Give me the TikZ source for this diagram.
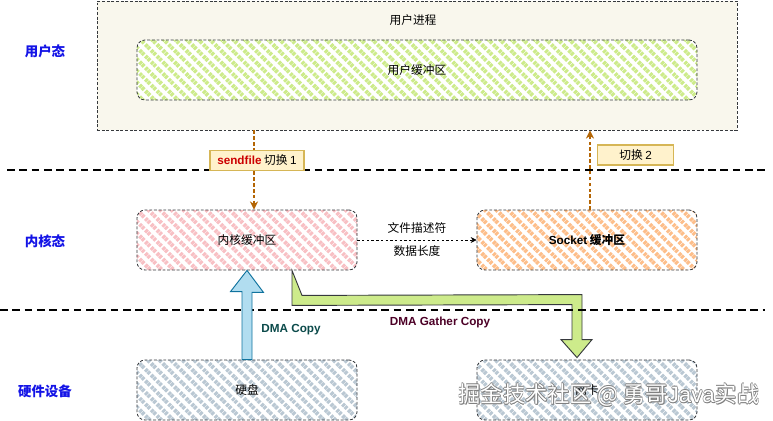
\documentclass[tikz,border=0pt]{standalone}
\usepackage{fontspec}
\setmainfont{Noto Sans CJK SC}
\newfontfamily\lat{Liberation Sans}
\usetikzlibrary{patterns.meta,arrows.meta,calc}
\definecolor{procfill}{HTML}{F9F7ED}
\definecolor{linegray}{HTML}{36393D}
\definecolor{ugreen}{HTML}{CDEB8B}
\definecolor{kpink}{HTML}{F8C0C4}
\definecolor{sorange}{HTML}{FDBE8A}
\definecolor{hwgray}{HTML}{BAC8D3}
\definecolor{labelfill}{HTML}{FFF2CC}
\definecolor{labelborder}{HTML}{D6B656}
\definecolor{switchbrown}{HTML}{B46504}
\definecolor{dmablue}{HTML}{B1DDF0}
\definecolor{dmaborder}{HTML}{10739E}
\definecolor{modeblue}{HTML}{1414E6}
\definecolor{copyteal}{HTML}{0B4A4A}
\definecolor{gathermaroon}{HTML}{4C0026}
\definecolor{sendred}{HTML}{CC0000}
\begin{document}
\begin{tikzpicture}[x=0.03cm,y=-0.03cm,font=\fontsize{10}{12}\selectfont]
  \tikzset{
    dashedge/.style={draw=linegray, line width=0.7pt, dash pattern=on 2.5pt off 1.5pt},
    buf/.style={dashedge, rounded corners=0.24cm, minimum width=6.6cm, minimum height=1.8cm, preaction={fill=white}},
    hatch/.style={pattern={Lines[angle=-45,distance=7pt,line width=3.4pt]}, pattern color=#1},
    modelabel/.style={text=modeblue, font=\fontsize{11.5}{14}\selectfont\bfseries},
    switchlabel/.style={draw=labelborder, fill=labelfill, minimum height=0.6cm, inner xsep=0.15cm},
    switcharrow/.style={draw=switchbrown, line width=1pt, dash pattern=on 3pt off 2pt, -{Stealth[length=7pt,width=7pt,fill=switchbrown]}},
    layerline/.style={line width=1.1pt, dash pattern=on 6.5pt off 4pt},
    dmacopy/.style={draw=dmaborder, fill=dmablue, line width=0.8pt},
    dmagather/.style={draw=linegray, fill=ugreen, line width=0.8pt},
  }
  \useasboundingbox (0,0) rectangle (773,421);
%% Layers
  \node[modelabel] (user) at (45,51) {用户态};
  \node[modelabel] (kernel) at (45,241) {内核态};
  \node[modelabel] (hw) at (45,391) {硬件设备};
%% User process
  \node[dashedge, fill=procfill, minimum width=19.2cm, minimum height=3.87cm] (proc) at (417,65.5) {};
  \node (procl) at (413,20) {用户进程};
  \node[buf, hatch=ugreen, minimum width=16.8cm] (ubuf) at (417,70) {用户缓冲区};
%% Kernel buffers
  \node[buf, hatch=kpink] (kbuf) at (247,240) {内核缓冲区};
  \node[buf, hatch=sorange, font=\fontsize{10}{12}\selectfont\bfseries] (sbuf) at (587,240) {{\lat Socket} 缓冲区};
%% Devices
  \node[buf, hatch=hwgray] (disk) at (247,390) {硬盘};
  \node[buf, hatch=hwgray] (nic) at (587,390) {网卡};
%Gather copy
  \draw[dmagather] ($(kbuf.south)+(45,0)$) -- ++(0,35) -- ($(nic.north)+(-15,-55)$) -- ++(0,35) -- ++(-11,0)
    -- ($(nic.north)+(-10,-2)$) -- ++(15,-18) -- ++(-10,0) -- ++(0,-45) -- ($(kbuf.south)+(55,25)$) -- cycle;
  \node[text=gathermaroon, font=\lat\fontsize{10}{12}\selectfont\bfseries] (gatherl) at (440,322) {DMA Gather Copy};
%Separators
  \draw[layerline] (7,170) -- (765,170);
  \draw[layerline] (0,310) -- (765,310);
%DMA copy
  \draw[dmacopy] ($(disk.north)+(-5,0)$) -- ++(0,-68) -- ++(-11.5,0) -- (kbuf.south) -- ++(16.5,22) -- ++(-11.5,0)
    -- ($(disk.north)+(5,0)$) -- cycle;
  \node[text=copyteal, font=\lat\fontsize{10}{12}\selectfont\bfseries] (copyl) at (291,330) {DMA Copy};
%Switches
  \draw[switcharrow] ($(proc.south)+(-163,0)$) -- node[switchlabel, pos=0.375, xshift=0.09cm, solid, minimum width=2.82cm] (sw1)
    {{\lat\bfseries\color{sendred}sendfile} 切换 {\lat 1}} ($(kbuf.north)+(7,0)$);
  \draw[switcharrow] ($(sbuf.north)+(3,0)$) -- node[switchlabel, pos=0.69, anchor=west, xshift=0.21cm, solid, minimum width=2.28cm] (sw2)
    {切换 {\lat 2}} ($(proc.south)+(173,0)$);
  \draw[line width=0.6pt, dash pattern=on 2pt off 2pt, -{Stealth[length=5pt,width=5pt]}] (kbuf.east) --
    node[above=2pt] (fd) {文件描述符} node[below=1pt] (len) {数据长度} (sbuf.west);
%Watermark
  \foreach \dx/\dy in {-0.6/0,0.6/0,0/-0.6,0/0.6,0.7/0.7}
    \node[text=gray, font=\fontsize{19}{22}\selectfont] at (609+\dx,395+\dy) {掘金技术社区 @ 勇哥{\lat Java}实战};
  \node[text=white, font=\fontsize{19}{22}\selectfont] (wm) at (609,395) {掘金技术社区 @ 勇哥{\lat Java}实战};
\end{tikzpicture}
\end{document}
